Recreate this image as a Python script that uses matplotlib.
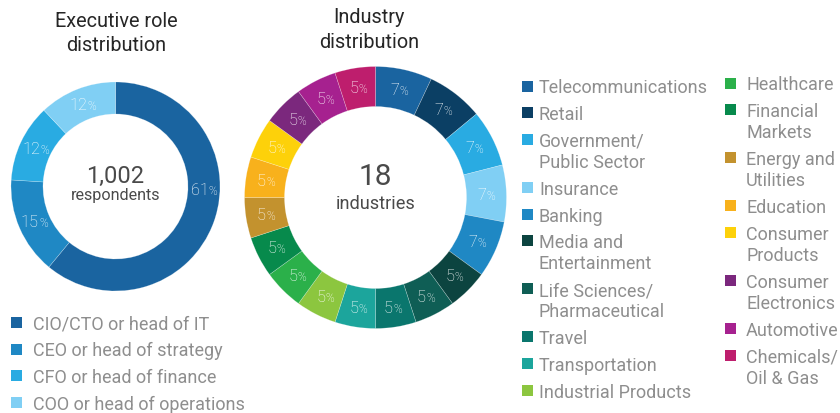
import matplotlib
matplotlib.use('Agg')
import matplotlib.pyplot as plt
import numpy as np
from matplotlib.patches import Rectangle
from matplotlib.offsetbox import TextArea, HPacker, AnnotationBbox

plt.rcParams['font.family'] = ['Roboto', 'DejaVu Sans']
plt.rcParams['font.weight'] = 'normal'

# ---------------- data ----------------
role_labels = ['CIO/CTO or head of IT', 'CEO or head of strategy',
               'CFO or head of finance', 'COO or head of operations']
role_values = [61, 15, 12, 12]
role_colors = ['#1A64A0', '#1F88C4', '#29ABE2', '#80CFF4']
role_total = '1,002'
role_center_label = 'respondents'

industry_labels = ['Telecommunications', 'Retail', 'Government/\nPublic Sector', 'Insurance',
                   'Banking', 'Media and\nEntertainment', 'Life Sciences/\nPharmaceutical',
                   'Travel', 'Transportation', 'Industrial Products', 'Healthcare',
                   'Financial\nMarkets', 'Energy and\nUtilities', 'Education',
                   'Consumer\nProducts', 'Consumer\nElectronics', 'Automotive',
                   'Chemicals/\nOil & Gas']
industry_values = [7, 7, 7, 7, 7, 5, 5, 5, 5, 5, 5, 5, 5, 5, 5, 5, 5, 5]
industry_colors = ['#1A64A0', '#0B3F64', '#29ABE2', '#80CFF4', '#1F88C4',
                   '#0C4440', '#0F5E55', '#0A766D', '#1CA59C', '#8CC63F',
                   '#2BB04A', '#078A4C', '#C3922E', '#F8B11C', '#FDD10A',
                   '#7B287D', '#A6218F', '#BE1E6D']
industry_total = '18'
industry_center_label = 'industries'

# ---------------- figure ----------------
W, H = 840, 414
fig = plt.figure(figsize=(8.4, 4.14), dpi=100)
ax = fig.add_axes([0, 0, 1, 1])


def Y(y):
    return H - y


TXT_GRAY = '#8E8E8E'
TITLE_C = '#262626'
CENTER_C = '#4A4A4A'


def pct_label(x, y, value, fs_num, fs_pct):
    a = TextArea(str(value), textprops=dict(color='white', fontsize=fs_num, fontweight='light'))
    b = TextArea('%', textprops=dict(color='white', fontsize=fs_pct, fontweight='light'))
    hp = HPacker(children=[a, b], align='baseline', pad=0, sep=0)
    ab = AnnotationBbox(hp, (x, y), xycoords='data', frameon=False, pad=0,
                        box_alignment=(0.5, 0.5))
    ax.add_artist(ab)


def donut(values, colors, cx, cy, r, w, fs_num, fs_pct, angle_override=None):
    wedges, _ = ax.pie(values, colors=colors, startangle=90, counterclock=False,
                       center=(cx, Y(cy)), radius=r,
                       wedgeprops=dict(width=w, linewidth=0.4, edgecolor=(1, 1, 1, 0.35)))
    for i, wd in enumerate(wedges):
        ang = (wd.theta1 + wd.theta2) / 2.0
        if angle_override and i in angle_override:
            ang = angle_override[i]
        rr = r - w / 2.0
        x = cx + rr * np.cos(np.radians(ang))
        y = Y(cy) + rr * np.sin(np.radians(ang))
        pct_label(x, y, values[i], fs_num, fs_pct)


# left donut
donut(role_values, role_colors, 115.5, 187.5, 104.5, 32, 11.8, 8.5, angle_override={0: -2})
# right donut
donut(industry_values, industry_colors, 375.5, 198.5, 131, 40, 11.8, 8.5)

ax.set_xlim(0, W)
ax.set_ylim(0, H)
ax.set_aspect('auto')
ax.axis('off')

# titles
for x, y, t in [(116, 27, 'Executive role'), (116, 51, 'distribution'),
                (369, 23, 'Industry'), (369, 48, 'distribution')]:
    ax.text(x, Y(y), t, ha='center', va='baseline', fontsize=14.3, color=TITLE_C)

# centre texts
ax.text(115.5, Y(183), role_total, ha='center', va='baseline', fontsize=17, color=CENTER_C)
ax.text(115.5, Y(200), role_center_label, ha='center', va='baseline', fontsize=11.6, color=CENTER_C)
ax.text(375.5, Y(185), industry_total, ha='center', va='baseline', fontsize=21.5, color=CENTER_C)
ax.text(375.5, Y(209), industry_center_label, ha='center', va='baseline', fontsize=13.1, color=CENTER_C)


def legend_column(labels, colors, x_sq, x_txt, y0, gap, line_h, sq=11, fs=13.0):
    y = y0
    for lab, col in zip(labels, colors):
        lines = lab.split('\n')
        ax.add_patch(Rectangle((x_sq, Y(y) - sq / 2), sq, sq, facecolor=col, edgecolor='none'))
        for k, ln in enumerate(lines):
            ax.text(x_txt, Y(y + k * line_h + 6.4), ln, ha='left', va='baseline',
                    fontsize=fs, color=TXT_GRAY)
        y += (len(lines) - 1) * line_h + gap


# executive legend
legend_column(role_labels, role_colors, 11, 33, 323.5, 26.6, 21.3)
# industry legend
legend_column(industry_labels[:10], industry_colors[:10], 522, 539, 87, 26.7, 21.3)
legend_column(industry_labels[10:], industry_colors[10:], 725, 746, 84, 26.7, 21.3)

fig.savefig('out.png', dpi=100, facecolor='white')
